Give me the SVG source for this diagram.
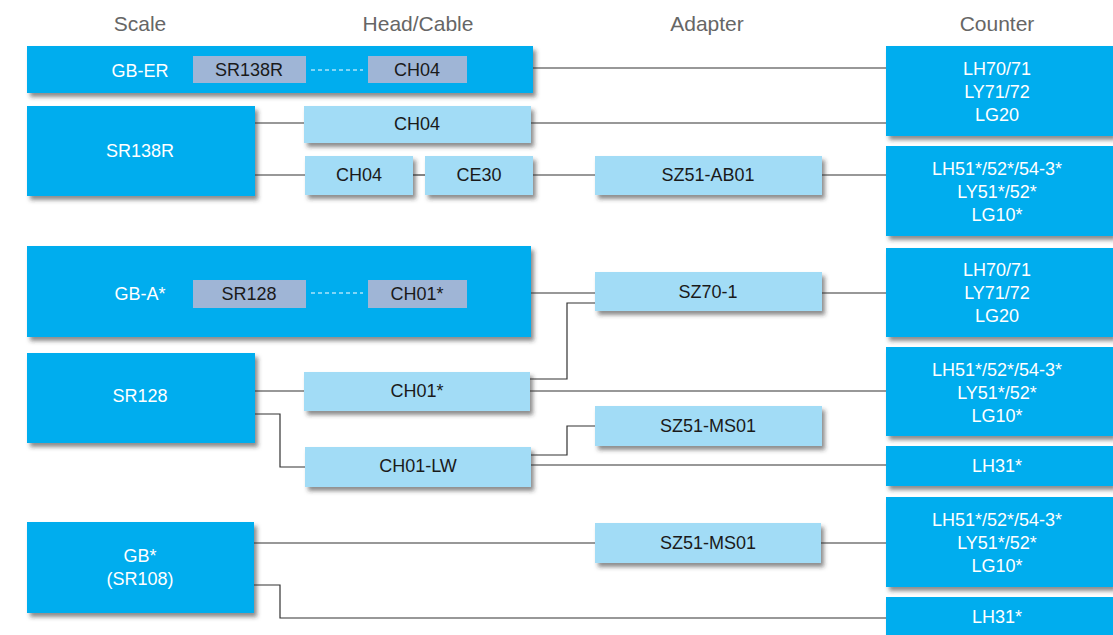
<svg xmlns="http://www.w3.org/2000/svg" width="1113" height="635" viewBox="0 0 1113 635">
<defs>
<filter id="sh" x="-5%" y="-10%" width="115%" height="140%">
<feDropShadow dx="3" dy="4" stdDeviation="2" flood-color="#333" flood-opacity="0.55"/>
</filter>
<style>
.hdr{font-family:"Liberation Sans",Arial,sans-serif;font-size:21px;fill:#666;text-anchor:middle}
.dk{fill:#00adee;filter:url(#sh)}
.lt{fill:#a2dcf6;filter:url(#sh)}
.gr{fill:#9fb5d6}
.wt{font-family:"Liberation Sans",Arial,sans-serif;font-size:18px;fill:#fff;text-anchor:middle}
.bt{font-family:"Liberation Sans",Arial,sans-serif;font-size:18px;fill:#1a1a1a;text-anchor:middle}
.cn{fill:none;stroke:#333;stroke-width:1.2}
.ds{stroke:#fff;stroke-width:1.2;stroke-dasharray:4 3}
</style>
</defs>
<rect width="1113" height="635" fill="#fff"/>
<g id="headers">
<text class="hdr" x="140" y="31">Scale</text>
<text class="hdr" x="418" y="31">Head/Cable</text>
<text class="hdr" x="707" y="31">Adapter</text>
<text class="hdr" x="997" y="31">Counter</text>
</g>
<g id="connectors">
<path class="cn" d="M533 68H886"/>
<path class="cn" d="M255 123H304"/>
<path class="cn" d="M531 123H886"/>
<path class="cn" d="M255 175H305"/>
<path class="cn" d="M413 175H425"/>
<path class="cn" d="M533 175H595"/>
<path class="cn" d="M822 175H886"/>
<path class="cn" d="M531 293H595"/>
<path class="cn" d="M822 293H886"/>
<path class="cn" d="M530 379H567V303H595"/>
<path class="cn" d="M530 391H886"/>
<path class="cn" d="M255 391H304"/>
<path class="cn" d="M255 414H280V467H305"/>
<path class="cn" d="M531 455H567V426H595"/>
<path class="cn" d="M531 465H886"/>
<path class="cn" d="M253 543H595"/>
<path class="cn" d="M821 543H886"/>
<path class="cn" d="M253 585H280V618H886"/>
</g>
<g id="gb-er">
<rect class="dk" x="27" y="46" width="506" height="47"/>
<text class="wt" x="140" y="77">GB-ER</text>
<rect class="gr" x="193" y="56" width="113" height="27"/>
<text class="bt" x="249" y="76">SR138R</text>
<line class="ds" x1="311" y1="70" x2="363" y2="70"/>
<rect class="gr" x="368" y="56" width="99" height="27"/>
<text class="bt" x="417" y="76">CH04</text>
</g>
<g id="sr138r">
<rect class="dk" x="27" y="106" width="228" height="90"/>
<text class="wt" x="140" y="157">SR138R</text>
</g>
<g id="ch04-a">
<rect class="lt" x="304" y="106" width="227" height="37"/>
<text class="bt" x="417" y="130">CH04</text>
</g>
<g id="ch04-b">
<rect class="lt" x="305" y="156" width="108" height="39"/>
<text class="bt" x="359" y="181">CH04</text>
</g>
<g id="ce30">
<rect class="lt" x="425" y="156" width="108" height="39"/>
<text class="bt" x="479" y="181">CE30</text>
</g>
<g id="sz51-ab01">
<rect class="lt" x="595" y="156" width="227" height="39"/>
<text class="bt" x="708" y="181">SZ51-AB01</text>
</g>
<g id="counter1">
<rect class="dk" x="886" y="46" width="227" height="90"/>
<text class="wt" x="997" y="75">LH70/71</text>
<text class="wt" x="997" y="98">LY71/72</text>
<text class="wt" x="997" y="121">LG20</text>
</g>
<g id="counter2">
<rect class="dk" x="886" y="146" width="227" height="90"/>
<text class="wt" x="997" y="175">LH51*/52*/54-3*</text>
<text class="wt" x="997" y="198">LY51*/52*</text>
<text class="wt" x="997" y="221">LG10*</text>
</g>
<g id="gb-a">
<rect class="dk" x="27" y="246" width="504" height="91"/>
<text class="wt" x="140" y="300">GB-A*</text>
<rect class="gr" x="193" y="280" width="113" height="28"/>
<text class="bt" x="249" y="300">SR128</text>
<line class="ds" x1="311" y1="293" x2="363" y2="293"/>
<rect class="gr" x="368" y="280" width="99" height="28"/>
<text class="bt" x="417" y="300">CH01*</text>
</g>
<g id="sz70-1">
<rect class="lt" x="595" y="272" width="227" height="39"/>
<text class="bt" x="708" y="298">SZ70-1</text>
</g>
<g id="counter3">
<rect class="dk" x="886" y="248" width="227" height="89"/>
<text class="wt" x="997" y="276">LH70/71</text>
<text class="wt" x="997" y="299">LY71/72</text>
<text class="wt" x="997" y="322">LG20</text>
</g>
<g id="sr128">
<rect class="dk" x="27" y="353" width="228" height="90"/>
<text class="wt" x="140" y="402">SR128</text>
</g>
<g id="ch01">
<rect class="lt" x="304" y="372" width="226" height="39"/>
<text class="bt" x="417" y="397">CH01*</text>
</g>
<g id="counter4">
<rect class="dk" x="886" y="347" width="227" height="89"/>
<text class="wt" x="997" y="376">LH51*/52*/54-3*</text>
<text class="wt" x="997" y="399">LY51*/52*</text>
<text class="wt" x="997" y="422">LG10*</text>
</g>
<g id="sz51-ms01-a">
<rect class="lt" x="595" y="406" width="227" height="40"/>
<text class="bt" x="708" y="432">SZ51-MS01</text>
</g>
<g id="ch01-lw">
<rect class="lt" x="305" y="447" width="226" height="40"/>
<text class="bt" x="418" y="472">CH01-LW</text>
</g>
<g id="lh31-a">
<rect class="dk" x="886" y="446" width="227" height="40"/>
<text class="wt" x="997" y="472">LH31*</text>
</g>
<g id="gb-sr108">
<rect class="dk" x="27" y="522" width="227" height="91"/>
<text class="wt" x="140" y="562">GB*</text>
<text class="wt" x="140" y="585">(SR108)</text>
</g>
<g id="sz51-ms01-b">
<rect class="lt" x="595" y="523" width="226" height="40"/>
<text class="bt" x="708" y="549">SZ51-MS01</text>
</g>
<g id="counter5">
<rect class="dk" x="886" y="497" width="227" height="90"/>
<text class="wt" x="997" y="526">LH51*/52*/54-3*</text>
<text class="wt" x="997" y="549">LY51*/52*</text>
<text class="wt" x="997" y="572">LG10*</text>
</g>
<g id="lh31-b">
<rect class="dk" x="886" y="597" width="227" height="45"/>
<text class="wt" x="997" y="623">LH31*</text>
</g>
</svg>
